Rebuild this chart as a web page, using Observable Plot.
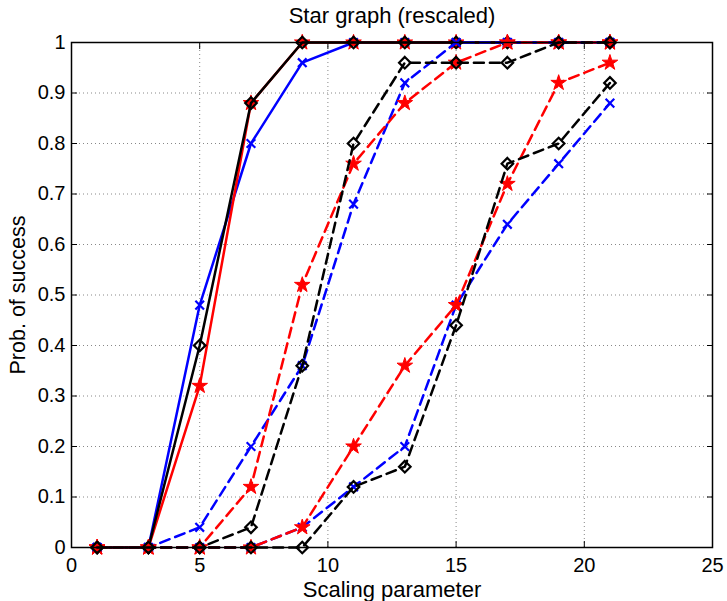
<!DOCTYPE html>
<html>
<head>
<meta charset="utf-8">
<script src="https://cdn.jsdelivr.net/npm/d3@7"></script>
<script src="https://cdn.jsdelivr.net/npm/@observablehq/plot@0.6"></script>
<style>
  html, body { margin: 0; padding: 0; background: #fff; }
  #chart svg { display: block; }
</style>
</head>
<body>
<div id="chart"></div>
<script>
// ---- data ----
const xs = [1, 3, 5, 7, 9, 11, 13, 15, 17, 19, 21];

// solid group
const blueSolid  = [0, 0, 0.48, 0.80, 0.96, 1, 1, 1, 1, 1, 1];
const redSolid   = [0, 0, 0.32, 0.88, 1, 1, 1, 1, 1, 1, 1];
const blackSolid = [0, 0, 0.40, 0.88, 1, 1, 1, 1, 1, 1, 1];

// dashed group A (middle)
const blueDashA  = [0, 0, 0.04, 0.20, 0.36, 0.68, 0.92, 1, 1, 1, 1];
const redDashA   = [0, 0, 0, 0.12, 0.52, 0.76, 0.88, 0.96, 1, 1, 1];
const blackDashA = [0, 0, 0, 0.04, 0.36, 0.80, 0.96, 0.96, 0.96, 1, 1];

// dashed group B (right)
const blueDashB  = [0, 0, 0, 0, 0.04, 0.12, 0.20, 0.48, 0.64, 0.76, 0.88];
const redDashB   = [0, 0, 0, 0, 0.04, 0.20, 0.36, 0.48, 0.72, 0.92, 0.96];
const blackDashB = [0, 0, 0, 0, 0, 0.12, 0.16, 0.44, 0.76, 0.80, 0.92];

const xTicks = [0, 5, 10, 15, 20, 25];
const yTicks = [0, 0.1, 0.2, 0.3, 0.4, 0.5, 0.6, 0.7, 0.8, 0.9, 1];

const titleText = "Star graph (rescaled)";
const xLabel = "Scaling parameter";
const yLabel = "Prob. of success";

// ---- build ----
const toRows = (ys) => xs.map((x, i) => ({x, y: ys[i]}));

const styles = {
  blue:  {color: "#0000ff", symbol: "times",    r: 4,   fill: "none",    sw: 2.2},
  red:   {color: "#ff0000", symbol: "star",     r: 4.9, fill: "#ff0000", sw: 1},
  black: {color: "#000000", symbol: "diamond2", r: 5.2, fill: "none",    sw: 2.2}
};

const seriesList = [
  {ys: blueSolid, kind: "blue", dashed: false},
  {ys: redSolid, kind: "red", dashed: false},
  {ys: blackSolid, kind: "black", dashed: false},
  {ys: blueDashA, kind: "blue", dashed: true},
  {ys: redDashA, kind: "red", dashed: true},
  {ys: blackDashA, kind: "black", dashed: true},
  {ys: blueDashB, kind: "blue", dashed: true},
  {ys: redDashB, kind: "red", dashed: true},
  {ys: blackDashB, kind: "black", dashed: true}
];

const seriesMarks = seriesList.flatMap(s => {
  const st = styles[s.kind];
  const rows = toRows(s.ys);
  return [
    Plot.line(rows, {x: "x", y: "y", stroke: st.color, strokeWidth: 2.5,
      strokeDasharray: s.dashed ? "10,6" : null}),
    Plot.dot(rows, {x: "x", y: "y", symbol: st.symbol, r: st.r,
      stroke: st.color, strokeWidth: st.sw, fill: st.fill})
  ];
});

const labelOpts = {textAnchor: "middle", lineAnchor: "middle", text: d => d};

const chart = Plot.plot({
  width: 727,
  height: 601,
  marginLeft: 71,
  marginRight: 15,
  marginTop: 42,
  marginBottom: 54,
  style: {fontFamily: "'Liberation Sans', Arial, Helvetica, sans-serif", fontSize: "20px", color: "#000", background: "#fff"},
  x: {domain: [0, 25]},
  y: {domain: [0, 1]},
  marks: [
    Plot.gridX(xTicks.slice(1, -1), {stroke: "#888", strokeOpacity: 1, strokeDasharray: "1,3"}),
    Plot.gridY(yTicks.slice(1, -1), {stroke: "#888", strokeOpacity: 1, strokeDasharray: "1,3"}),
    Plot.axisX(xTicks, {anchor: "bottom", tickSize: -6, tickPadding: 16, fontSize: 20, label: null, tickFormat: d => String(d)}),
    Plot.axisX(xTicks, {anchor: "top", tickSize: -6, label: null, tickFormat: () => ""}),
    Plot.axisY(yTicks, {anchor: "left", tickSize: -6, tickPadding: 12, fontSize: 20, label: null, tickFormat: d => String(d)}),
    Plot.axisY(yTicks, {anchor: "right", tickSize: -6, label: null, tickFormat: () => ""}),
    ...seriesMarks,
    Plot.frame({stroke: "#000", strokeWidth: 1.5}),
    Plot.text([titleText], {...labelOpts, frameAnchor: "top", dy: -27, fontSize: 22}),
    Plot.text([xLabel], {...labelOpts, frameAnchor: "bottom", dy: 42, fontSize: 22}),
    Plot.text([yLabel], {...labelOpts, frameAnchor: "left", dx: -53, rotate: -90, fontSize: 21.5})
  ]
});

document.getElementById("chart").appendChild(chart);
</script>
</body>
</html>
